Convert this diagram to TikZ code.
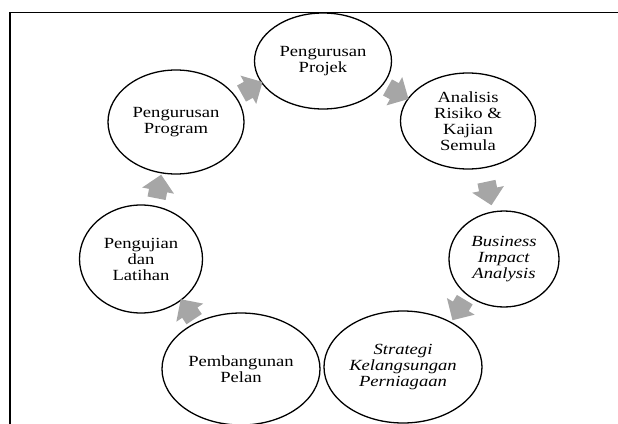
\documentclass[tikz,border=0pt]{standalone}
\usepackage{fontspec}
\setmainfont[FakeStretch=1.2]{Liberation Serif}
\usetikzlibrary{shapes.geometric,shapes.arrows}
\definecolor{arrowgray}{HTML}{A6A6A6}
\tikzset{
  stage/.style={ellipse, draw=black, line width=1.3pt, inner sep=0pt, align=center,
    font=\fontsize{15.5}{16}\selectfont},
  cyclearrow/.style={single arrow, draw=none, fill=arrowgray, inner sep=0pt,
    text height=9pt, text depth=9pt, text width=0pt,
    minimum height=24pt, single arrow head extend=7pt,
    single arrow head indent=0pt},
  frameline/.style={line width=1.8pt, line cap=rect}
}
\begin{document}
\begin{tikzpicture}[x=1pt,y=-1pt]
\useasboundingbox (0,0) rectangle (618,423);
\coordinate (fb) at (10,423);
\coordinate (fc) at (10,12.5);
\coordinate (fr) at (618,12.5);
\draw[frameline] (fb) -- (fc) -- (fr);

\node[stage, minimum width=137pt, minimum height=96pt] (proj) at (323,61) {Pengurusan\\Projek};
\node[stage, minimum width=135pt, minimum height=96pt] (anal) at (468,121) {Analisis\\Risiko \&\\Kajian\\Semula};
\node[stage, minimum width=110pt, minimum height=96pt] (bia) at (504,259) {\textit{Business}\\\textit{Impact}\\\textit{Analysis}};
\node[stage, minimum width=158pt, minimum height=112pt] (strat) at (403,367) {\textit{Strategi}\\\textit{Kelangsungan}\\\textit{Perniagaan}};
\node[stage, minimum width=158pt, minimum height=112pt] (pemb) at (241,369) {Pembangunan\\Pelan};
\node[stage, minimum width=123pt, minimum height=108pt] (peng) at (141,259) {Pengujian\\dan\\Latihan};
\node[stage, minimum width=136pt, minimum height=104pt] (prog) at (176,122) {Pengurusan\\Program};

\node[cyclearrow, rotate=29] (a1) at (248,90) {};
\node[cyclearrow, rotate=-29] (a2) at (394,91) {};
\node[cyclearrow, rotate=-78] (a3) at (488,189) {};
\node[cyclearrow, rotate=-121] (a4) at (461,306) {};
\node[cyclearrow, rotate=124] (a5) at (190,313) {};
\node[cyclearrow, rotate=79] (a6) at (158,191) {};
\end{tikzpicture}
\end{document}
